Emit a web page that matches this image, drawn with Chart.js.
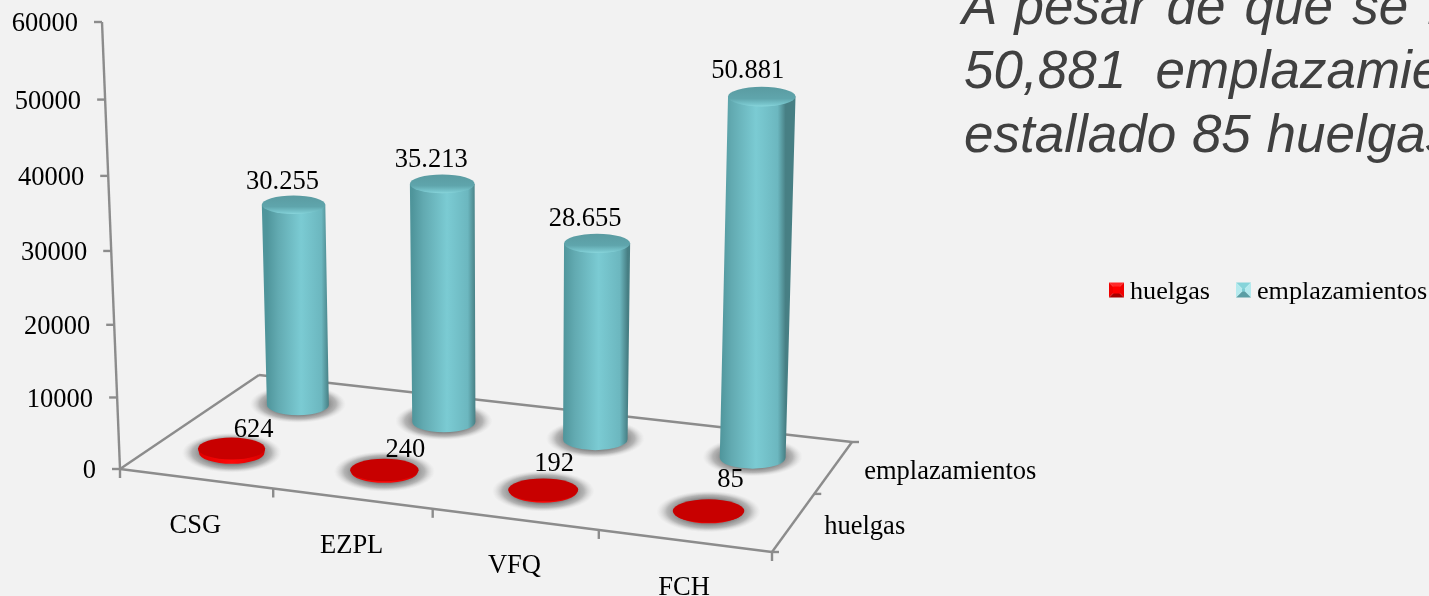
<!DOCTYPE html>
<html lang="es">
<head>
<meta charset="utf-8">
<title>Huelgas y emplazamientos</title>
<script src="https://cdn.jsdelivr.net/npm/chart.js@4"></script>
<style>
  html,body{margin:0;padding:0;width:1429px;height:596px;overflow:hidden;background:#f2f2f2;}
  #wrap{position:relative;width:1429px;height:596px;overflow:hidden;}
  #chart{position:absolute;left:0;top:0;}
  .t{position:absolute;left:0;white-space:pre;font:italic 53px "Liberation Sans",Arial,sans-serif;color:#404040;line-height:64px;}
</style>
</head>
<body>
<div id="wrap">
  <div class="t" style="left:962px;top:-26px;word-spacing:4.5px">A pesar de que se han</div>
  <div class="t" style="left:964px;top:38px;word-spacing:0px">50,881  emplazamientos</div>
  <div class="t" style="left:964px;top:102px;word-spacing:1px">estallado 85 huelgas</div>
  <canvas id="chart" width="1429" height="596"></canvas>
</div>
<script>
const categories = ["CSG", "EZPL", "VFQ", "FCH"];
const seriesNames = ["huelgas", "emplazamientos"];
const huelgas = [624, 240, 192, 85];
const emplazamientos = [30255, 35213, 28655, 50881];
const valueMin = 0;
const valueMax = 60000;
const valueStep = 10000;

// layout: floor quad of the 3D box (front-left, front-right, back-right, back-left)
const FLOOR = [[120,469],[772,552],[852,442],[259,375]];
const FONT = '26.5px "Liberation Serif","Times New Roman",serif';
const LINE = '#8c8c8c';
const labelOffsets = {
  huelgas: [[22,-18],[21,-20],[11,-26],[22,-31]],
  emplazamientos: [[-11,-23],[-11,-24],[-12,-24],[-14,-26]]
};

function makeHomography(q){
  const [[x0,y0],[x1,y1],[x2,y2],[x3,y3]] = q;
  const dx1=x1-x2, dx2=x3-x2, dx3=x0-x1+x2-x3, dy1=y1-y2, dy2=y3-y2, dy3=y0-y1+y2-y3;
  const den=dx1*dy2-dx2*dy1;
  const g=(dx3*dy2-dx2*dy3)/den, h=(dx1*dy3-dx3*dy1)/den;
  const a=x1-x0+g*x1, b=x3-x0+h*x3, d=y1-y0+g*y1, e=y3-y0+h*y3;
  return (u,v)=>{const w=g*u+h*v+1; return [(a*u+b*v+x0)/w,(d*u+e*v+y0)/w];};
}
const floorAt = makeHomography(FLOOR);
const depthScale = fy => 0.91 + (fy-405)*0.00095;
const leanX = (fx,H) => fx + (fx-508)*1.03e-4*H;
const fmt = v => String(v).replace(/\B(?=(\d{3})+$)/g,'.');

// value axis foreshortened by the 3D view
class PerspectiveScale extends Chart.LinearScale {
  getPixelForValue(v){
    const p=(v-this.min)/(this.max-this.min);
    const q=p/(p+1.05*(1-p));
    return this.bottom-(this.bottom-this.top)*q;
  }
}
PerspectiveScale.id='perspective';
PerspectiveScale.defaults=Chart.LinearScale.defaults;
Chart.register(PerspectiveScale);

function ellipse(ctx,x,y,rx,ry){ctx.beginPath();ctx.ellipse(x,y,rx,ry,0,0,Math.PI*2);}

function drawShadow(ctx,x,y,rx,ry){
  ctx.save();
  ctx.translate(x,y);ctx.scale(1,ry/rx);
  const g=ctx.createRadialGradient(0,0,rx*0.6,0,0,rx);
  g.addColorStop(0,'rgba(130,130,130,1)');
  g.addColorStop(0.5,'rgba(160,160,160,0.75)');
  g.addColorStop(1,'rgba(210,210,210,0)');
  ctx.fillStyle=g;ctx.beginPath();ctx.arc(0,0,rx,0,Math.PI*2);ctx.fill();
  ctx.restore();
}

class Cylinder3D extends Chart.BarController {
  geometry(i){
    const meta=this.getMeta(), el=meta.data[i];
    const xs=meta.xScale;
    const t=(el.x-xs.left)/xs.width;
    const s=seriesNames.indexOf(this.getDataset().label);
    const [fx,fy]=floorAt(t,(s+0.5)/seriesNames.length);
    const H=(el.base-el.y)*depthScale(fy);
    const rx=el.width/2*(0.95+(fy-405)*0.00113);
    return {fx,fy,H,rxB:rx,rxT:rx*1.025,tx:leanX(fx,H),ty:fy-H};
  }
  draw(){
    const ctx=this.chart.ctx, ds=this.getDataset(), n=this.getMeta().data.length;
    for(let i=0;i<n;i++){
      const g=this.geometry(i);
      if(ds.label==='emplazamientos') this.drawTall(ctx,g); else this.drawDisc(ctx,g);
    }
  }
  sidePath(ctx,g,ryB){
    ctx.beginPath();
    ctx.moveTo(g.tx-g.rxT,g.ty);
    ctx.lineTo(g.fx-g.rxB,g.fy);
    ctx.ellipse(g.fx,g.fy,g.rxB,ryB,0,Math.PI,0,true);
    ctx.lineTo(g.tx+g.rxT,g.ty);
    ctx.closePath();
  }
  drawTall(ctx,g){
    drawShadow(ctx,g.fx,g.fy-1,g.rxB+17,g.rxB*0.32+9);
    const side=ctx.createLinearGradient(g.fx-g.rxB,0,g.fx+g.rxB,0);
    side.addColorStop(0,'#4f959b');side.addColorStop(0.18,'#62aab1');
    side.addColorStop(0.55,'#7bcbd3');side.addColorStop(0.88,'#6cb7bf');side.addColorStop(1,'#477f84');
    this.sidePath(ctx,g,g.rxB*0.33);
    ctx.fillStyle=side;ctx.fill();
    const ry=g.rxT*0.29;
    const cap=ctx.createLinearGradient(0,g.ty-ry,0,g.ty+ry);
    cap.addColorStop(0,'#5a9ba1');cap.addColorStop(0.6,'#5fa5ac');cap.addColorStop(0.9,'#79c6cd');cap.addColorStop(1,'#8ad6dc');
    ellipse(ctx,g.tx,g.ty,g.rxT,ry);
    ctx.fillStyle=cap;ctx.fill();
  }
  drawDisc(ctx,g){
    const ry=g.rxB*0.335;
    drawShadow(ctx,g.fx,g.fy,g.rxB+17,ry+9);
    const side=ctx.createLinearGradient(g.fx-g.rxB,0,g.fx+g.rxB,0);
    side.addColorStop(0,'#e00000');side.addColorStop(0.5,'#ff0808');side.addColorStop(1,'#d80000');
    this.sidePath(ctx,g,ry);
    ctx.fillStyle=side;ctx.fill();
    ellipse(ctx,g.tx,g.ty,g.rxT,ry);
    ctx.fillStyle='#c80000';ctx.fill();
  }
}
Cylinder3D.id='cylinder3d';
Cylinder3D.defaults=Chart.BarController.defaults;
Cylinder3D.overrides=Chart.BarController.overrides;
Chart.register(Cylinder3D);

function seg(ctx,a,b){ctx.beginPath();ctx.moveTo(a[0],a[1]);ctx.lineTo(b[0],b[1]);ctx.stroke();}

const frame = {
  id:'frame',
  beforeDatasetsDraw(chart){
    const ctx=chart.ctx, y=chart.scales.y, x=chart.scales.x;
    ctx.save();
    ctx.strokeStyle=LINE;ctx.lineWidth=2.4;ctx.lineCap='butt';
    const [a,b,c,d]=FLOOR;
    seg(ctx,a,b);seg(ctx,b,c);seg(ctx,c,d);seg(ctx,d,a);
    // value axis, leaning with the view
    const topPx=y.getPixelForValue(valueMax), botPx=y.getPixelForValue(valueMin);
    const axisX=p=>a[0]+(botPx-p)*(102-a[0])/(botPx-topPx);
    seg(ctx,[axisX(botPx),botPx],[axisX(topPx),topPx]);
    ctx.fillStyle='#000';ctx.font=FONT;ctx.textBaseline='middle';ctx.textAlign='right';
    y.ticks.forEach(tk=>{
      const p=y.getPixelForValue(tk.value), ax=axisX(p);
      seg(ctx,[ax,p],[ax-8,p]);
      ctx.fillText(String(tk.value),ax-24,p+2.5);
    });
    // category ticks and labels on the front edge
    const n=categories.length;
    for(let i=0;i<=n;i++){const q=floorAt(i/n,0);seg(ctx,q,[q[0],q[1]+9]);}
    ctx.textAlign='center';
    categories.forEach((c0,i)=>{
      const t=(x.getPixelForValue(i)-x.left)/x.width;
      const q=floorAt(t,0);
      ctx.fillText(c0,q[0]-0.5,q[1]+47);
    });
    // series ticks and labels on the right edge
    const m=seriesNames.length;
    for(let j=0;j<=m;j++){const q=floorAt(1,j/m);seg(ctx,q,[q[0]+7,q[1]]);}
    ctx.textAlign='left';
    seriesNames.forEach((s,j)=>{
      const q=floorAt(1,(j+0.5)/m);
      ctx.fillText(s,q[0]+30.5,q[1]+5);
    });
    ctx.restore();
  },
  afterDatasetsDraw(chart){
    const ctx=chart.ctx;
    ctx.save();
    ctx.fillStyle='#000';ctx.font=FONT;ctx.textBaseline='middle';ctx.textAlign='center';
    chart.data.datasets.forEach((ds,di)=>{
      const ctrl=chart.getDatasetMeta(di).controller;
      ds.data.forEach((v,i)=>{
        const g=ctrl.geometry(i), off=labelOffsets[ds.label][i];
        ctx.fillText(fmt(v),g.tx+off[0],g.ty+off[1]);
      });
    });
    // legend
    const items=[[1109,['#ff2a2a','#f00000','#a80000','#f00000','#ff0000'],1130],
                 [1236,['#86d4da','#b4eaee','#5b9ea4','#b4eaee','#7fcdd3'],1257]];
    chart.data.datasets.forEach((ds,di)=>{
      const [lx,cols,tx]=items[di];
      const s=15, ly=282.5, cx=lx+s/2, cy=ly+s/2, i=di?1.5:3.5;
      const tri=(pts,col)=>{ctx.beginPath();pts.forEach((p,k)=>k?ctx.lineTo(p[0],p[1]):ctx.moveTo(p[0],p[1]));ctx.closePath();ctx.fillStyle=col;ctx.fill();};
      tri([[lx,ly],[lx+s,ly],[cx,cy]],cols[0]);
      tri([[lx+s,ly],[lx+s,ly+s],[cx,cy]],cols[1]);
      tri([[lx,ly+s],[lx+s,ly+s],[cx,cy]],cols[2]);
      tri([[lx,ly],[lx,ly+s],[cx,cy]],cols[3]);
      ctx.fillStyle=cols[4];ctx.fillRect(cx-i,cy-i,i*2,i*2);
      ctx.fillStyle='#000';ctx.textAlign='left';ctx.font='26.2px "Liberation Serif","Times New Roman",serif';
      ctx.fillText(ds.label,tx,292);
    });
    ctx.restore();
  }
};

new Chart(document.getElementById('chart'),{
  type:'cylinder3d',
  data:{labels:categories,datasets:[
    {label:seriesNames[0],data:huelgas,backgroundColor:'#c80000',grouped:false,categoryPercentage:0.4,barPercentage:1,clip:false},
    {label:seriesNames[1],data:emplazamientos,backgroundColor:'#7bcbd3',grouped:false,categoryPercentage:0.4,barPercentage:1,clip:false}
  ]},
  options:{
    responsive:false,animation:false,events:[],
    layout:{padding:{left:120,right:657,top:22,bottom:127}},
    plugins:{legend:{display:false},tooltip:{enabled:false}},
    scales:{
      x:{type:'category',display:false,offset:true},
      y:{type:'perspective',display:false,min:valueMin,max:valueMax,ticks:{stepSize:valueStep}}
    }
  },
  plugins:[frame]
});
</script>
</body>
</html>
